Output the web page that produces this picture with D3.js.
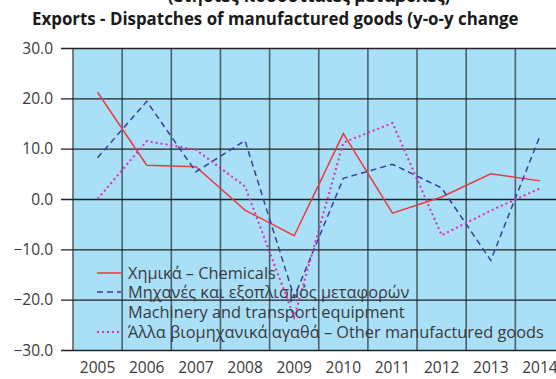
<!DOCTYPE html>
<html>
<head>
<meta charset="utf-8">
<script src="https://cdn.jsdelivr.net/npm/d3@7"></script>
<style>
  html, body { margin: 0; padding: 0; background: #ffffff; }
  svg { display: block; }
  text { font-family: "Open Sans", "Noto Sans", sans-serif; }
</style>
</head>
<body>
<svg id="chart" width="556" height="379"></svg>
<script>
// Year-on-year % change of exports / dispatches of manufactured goods
const years = ["2005", "2006", "2007", "2008", "2009", "2010", "2011", "2012", "2013", "2014"];
const chemicals = [21.2, 6.7, 6.4, -2.2, -7.3, 13.0, -2.8, 0.4, 5.0, 3.6];
const machinery = [8.2, 19.4, 5.4, 11.6, -19.5, 4.1, 6.9, 2.2, -12.2, 12.5];
const otherGoods = [0.0, 11.5, 9.8, 2.5, -23.5, 11.2, 15.1, -7.2, -2.3, 2.1];
const yTicks = [30, 20, 10, 0, -10, -20, -30];
const seriesNames = [
  ["Χημικά – Chemicals"],
  ["Μηχανές και εξοπλισμός μεταφορών", "Machinery and transport equipment"],
  ["Άλλα βιομηχανικά αγαθά – Other manufactured goods"]
];
const titleTop = "(ετήσιες ποσοστιαίες μεταβολές)";
const titleMain = "Exports - Dispatches of manufactured goods (y-o-y change";

const svg = d3.select("#chart");
const textColor = "#3a3a3a";

const plot = { left: 73, right: 564.5, top: 48, bottom: 350 };

const x = d3.scaleBand().domain(years).range([plot.left, plot.right]);
const y = d3.scaleLinear().domain([-30, 30]).range([plot.bottom, plot.top]);

// Fit a text element's font size so it spans a given width
function fitWidth(sel, width, base) {
  sel.attr("font-size", base);
  const w = sel.node().getComputedTextLength();
  const size = base * width / w;
  sel.attr("font-size", size);
  return size;
}

// Plot background
svg.append("rect")
  .attr("x", plot.left).attr("y", plot.top)
  .attr("width", plot.right - plot.left).attr("height", plot.bottom - plot.top)
  .attr("fill", "#aadff8");

// Vertical grid lines at category boundaries
const vEdges = years.map(d => x(d)).concat([x(years[years.length - 1]) + x.bandwidth()]);
svg.append("g").selectAll("line").data(vEdges).join("line")
  .attr("x1", d => d).attr("x2", d => d)
  .attr("y1", plot.top).attr("y2", plot.bottom)
  .attr("stroke", "#3b4a52").attr("stroke-width", 1.6).attr("stroke-opacity", 0.85);

// Horizontal grid lines with the y axis ticks
const yAxis = d3.axisLeft(y).tickValues(yTicks)
  .tickFormat(d3.format(".1f"))
  .tickSize(plot.right - plot.left + 12)
  .tickPadding(8);
const yg = svg.append("g")
  .attr("transform", `translate(${plot.right},0)`)
  .call(yAxis);
yg.select(".domain").remove();
yg.selectAll(".tick line")
  .attr("stroke", "#222").attr("stroke-width", 1.4);
yg.selectAll(".tick text")
  .attr("fill", textColor)
  .attr("font-size", 15.5)
  .attr("font-family", "Open Sans, sans-serif")
  .attr("text-anchor", "end")
  .attr("x", -(plot.right - plot.left + 20))
  .attr("dy", "0.34em");

// X axis labels (years)
const xAxis = d3.axisBottom(x).tickSize(0).tickPadding(0);
const xg = svg.append("g")
  .attr("transform", `translate(0,${plot.bottom})`)
  .call(xAxis);
xg.select(".domain").remove();
xg.selectAll(".tick text")
  .attr("fill", textColor)
  .attr("font-size", 15.5)
  .attr("font-family", "Open Sans, sans-serif")
  .attr("y", 12)
  .attr("dy", "0.71em");

// Series lines
const series = [
  { values: chemicals, color: "#ec3a3c", dash: null, width: 1.5 },
  { values: machinery, color: "#3a3d9e", dash: "6,4", width: 1.5 },
  { values: otherGoods, color: "#e22bb4", dash: "2,3", width: 2 }
];
const line = d3.line()
  .x((d, i) => x(years[i]) + x.bandwidth() / 2)
  .y(d => y(d));
svg.append("g").selectAll("path").data(series).join("path")
  .attr("d", d => line(d.values))
  .attr("fill", "none")
  .attr("stroke", d => d.color)
  .attr("stroke-width", d => d.width)
  .attr("stroke-dasharray", d => d.dash);

// Legend inside the plot area
const legendX = 97, legendTextX = 128;
const rowY = [273, 292, 312, 332];
const lg = svg.append("g");
const legendRows = [
  { s: 0, text: seriesNames[0][0], y: rowY[0], sample: true },
  { s: 1, text: seriesNames[1][0], y: rowY[1], sample: true },
  { s: 1, text: seriesNames[1][1], y: rowY[2], sample: false },
  { s: 2, text: seriesNames[2][0], y: rowY[3], sample: true }
];
const probe = lg.append("text").text(seriesNames[2][0]).attr("x", legendTextX).attr("y", -100);
const legendSize = fitWidth(probe, 416, 16);
probe.remove();
legendRows.forEach(r => {
  if (r.sample) {
    const s = series[r.s];
    lg.append("line")
      .attr("x1", legendX).attr("x2", legendX + 24)
      .attr("y1", r.y).attr("y2", r.y)
      .attr("stroke", s.color).attr("stroke-width", s.width)
      .attr("stroke-dasharray", s.dash);
  }
  lg.append("text")
    .attr("x", legendTextX).attr("y", r.y)
    .attr("dy", "0.35em")
    .attr("fill", textColor)
    .attr("font-size", legendSize)
    .text(r.text);
});

// Title (upper line sits at the very top edge)
const t = svg.append("text")
  .attr("x", 32).attr("y", 25)
  .attr("font-weight", "bold")
  .attr("fill", "#1a1a1a")
  .text(titleMain);
const titleSize = fitWidth(t, 487, 18);
svg.append("text")
  .attr("x", 309).attr("y", 1.5)
  .attr("text-anchor", "middle")
  .attr("font-weight", "bold")
  .attr("fill", "#1a1a1a")
  .attr("font-size", titleSize)
  .text(titleTop);
</script>
</body>
</html>
